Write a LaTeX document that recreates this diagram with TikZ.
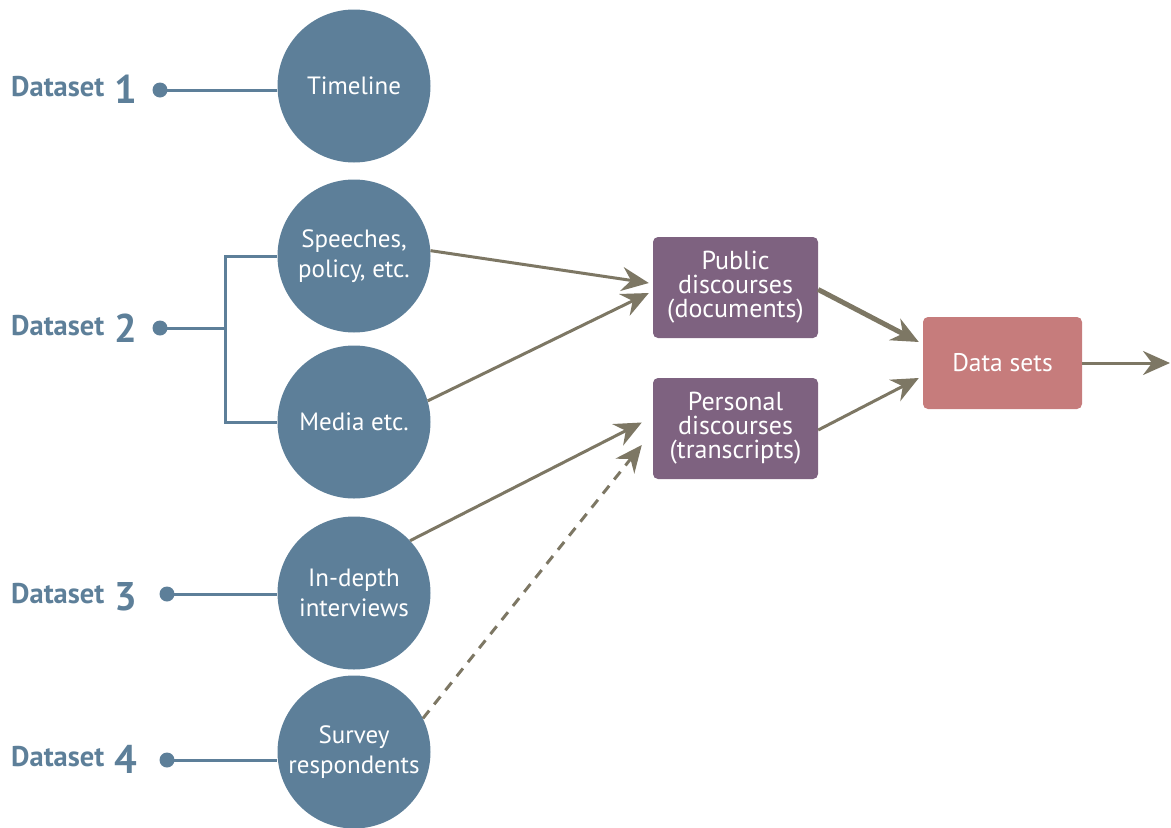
\documentclass[tikz,border=0pt]{standalone}
\usepackage{fontspec}
\setmainfont{PT Sans}
\usetikzlibrary{arrows.meta}
\definecolor{dsblue}{HTML}{5D7F99}
\definecolor{dspurple}{HTML}{7E6280}
\definecolor{dspink}{HTML}{C67C7C}
\definecolor{dsarrow}{HTML}{7D7764}
\tikzset{
  source/.style={circle, fill=dsblue, minimum size=153pt, inner sep=0pt,
    text=white, align=center, font=\fontsize{25}{30}\selectfont},
  dsbox/.style={rounded corners=5pt, inner sep=0pt, text=white, align=center,
    font=\fontsize{26}{24}\selectfont},
  dslabel/.style={text=dsblue, anchor=base west, inner sep=0pt,
    font=\bfseries\fontsize{28.5}{28.5}\selectfont},
  dsdot/.style={circle, fill=dsblue, minimum size=15pt, inner sep=0pt},
  link/.style={draw=dsblue, line width=3pt},
  flow/.style={draw=dsarrow, line width=3pt,
    -{Stealth[length=27pt, width=24pt, inset=9pt]}},
}
\newcommand{\dsnum}[1]{\hspace{10pt}\raisebox{-7pt}{\fontsize{40}{40}\selectfont #1}}
\begin{document}
\begin{tikzpicture}[x=1pt, y=-1pt]
  \path[use as bounding box] (0,0) rectangle (1171,828);

  % dataset labels and their dots
  \node[dslabel] (l1) at (11,96)  {Dataset\dsnum{1}};
  \node[dslabel] (l2) at (11,335) {Dataset\dsnum{2}};
  \node[dslabel] (l3) at (11,603) {Dataset\dsnum{3}};
  \node[dslabel] (l4) at (11,766) {Dataset\dsnum{4}};
  \node[dsdot] (d1) at (160,90)  {};
  \node[dsdot] (d2) at (160,328) {};
  \node[dsdot] (d3) at (167,594) {};
  \node[dsdot] (d4) at (167,760) {};
  \coordinate (fork) at (225,328);

  % data sources
  \node[source] (tl) at (354,86)  {Timeline};
  \node[source] (sp) at (354,256) {Speeches,\\policy, etc.};
  \node[source] (me) at (354,422) {Media etc.};
  \node[source] (iv) at (354,593) {In-depth\\interviews};
  \node[source] (sv) at (354,752) {Survey\\respondents};

  \draw[link] (d1.center) -- (d1 -| tl.west);
  \draw[link] (d2.center) -- (fork);
  \draw[link] (sp.west) -| (fork) |- (me.west);
  \draw[link] (d3.center) -- (d3 -| iv.west);
  \draw[link] (d4.center) -- (d4 -| sv.west);

  % processed corpora
  \node[dsbox, fill=dspurple, minimum width=165pt, minimum height=101pt]
    (pub) at (735.5,287.5) {Public\\discourses\\(documents)};
  \node[dsbox, fill=dspurple, minimum width=165pt, minimum height=101pt]
    (per) at (735.5,428.5) {Personal\\discourses\\(transcripts)};
  \node[dsbox, fill=dspink, minimum width=159pt, minimum height=92pt,
    font=\fontsize{25.5}{24}\selectfont]
    (ds) at (1002.5,363) {Data sets};
  \coordinate (out) at (1170,363);

  % flows
  \draw[flow] (sp.4)  -- ([xshift=-4pt, yshift=4.5pt]pub.west);
  \draw[flow] (me.16) -- ([xshift=-4pt, yshift=-5.5pt]pub.west);
  \draw[flow] (iv.43) -- ([xshift=-11pt, yshift=6pt]per.west);
  \draw[flow, dash pattern=on 10pt off 8pt] (sv.26) -- ([xshift=-11pt, yshift=-16.5pt]per.west);
  \draw[flow, line width=5pt] ([yshift=-2pt]pub.east) -- ([xshift=-4pt, yshift=21pt]ds.west);
  \draw[flow] ([yshift=-1.5pt]per.east) -- ([xshift=-4pt, yshift=-15pt]ds.west);
  \draw[flow] (ds.east) -- (out);
\end{tikzpicture}
\end{document}
